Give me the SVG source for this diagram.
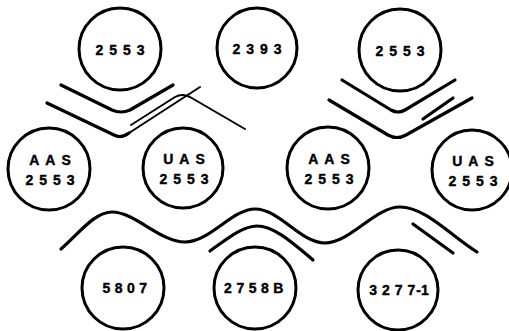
<svg xmlns="http://www.w3.org/2000/svg" width="509" height="331" viewBox="0 0 509 331">
<style>
  .n { fill: none; stroke: #000; stroke-width: 3; }
  .t { font-family: "Liberation Sans", Arial, sans-serif; font-weight: bold; font-size: 14px; letter-spacing: 6px; text-anchor: middle; fill: #000; stroke: #000; stroke-width: 0.4; }
  .t2 { letter-spacing: 4.5px; }
  .t3 { letter-spacing: 0; }
  .c { fill: none; stroke: #000; stroke-linecap: round; stroke-linejoin: round; }
  .thick { stroke-width: 3.2; }
  .thin { stroke-width: 2; }
</style>
<rect width="509" height="331" fill="#fff"/>
<g id="connectors">
  <path class="c thick" d="M61,85 L112,110 Q121,114 130,110 L173,85"/>
  <path class="c thick" d="M47,103 L114,135 Q121,139 129,133"/>
  <path class="c thin" d="M129,133 L200,87"/>
  <path class="c thin" d="M131,125 L175,97 Q182,93 190,97 L245,129"/>
  <path class="c thick" d="M342,80 L391,110 Q398,114 405,110 L455,80"/>
  <path class="c thick" d="M329,100 L388,135 Q397,140 406,135 L472,98"/>
  <path class="c thick" d="M423,119 L453,98"/>
  <path class="c thick" d="M61,249 C80,232 95,212 112,212 C135,212 160,242 185,242 C210,242 232,209 255,209 C280,209 300,243 325,243 C350,243 375,207 400,207 C425,207 450,235 477,252"/>
  <path class="c thick" d="M210,251 C228,238 243,226 257,226 C275,226 295,245 313,260"/>
  <path class="c thick" d="M413,224 L453,253"/>
</g>
<g id="n1"><circle class="n" cx="120" cy="49" r="41"/><text class="t" x="123" y="55">2553</text></g>
<g id="n2"><circle class="n" cx="257" cy="48" r="40"/><text class="t" x="260" y="54">2393</text></g>
<g id="n3"><circle class="n" cx="400" cy="50" r="41"/><text class="t" x="403" y="56">2553</text></g>
<g id="n4"><circle class="n" cx="49" cy="169" r="41"/><text class="t" x="53" y="165">AAS</text><text class="t" x="53" y="185">2553</text></g>
<g id="n5"><circle class="n" cx="183" cy="168" r="40"/><text class="t" x="187" y="164">UAS</text><text class="t" x="187" y="184">2553</text></g>
<g id="n6"><circle class="n" cx="328" cy="168" r="41"/><text class="t" x="332" y="164">AAS</text><text class="t" x="332" y="184">2553</text></g>
<g id="n7"><circle class="n" cx="472" cy="170" r="40"/><text class="t" x="476" y="166">UAS</text><text class="t" x="476" y="186">2553</text></g>
<g id="n8"><circle class="n" cx="123" cy="288" r="41"/><text class="t t2" x="127" y="293">5807</text></g>
<g id="n9"><circle class="n" cx="255" cy="288" r="41"/><text class="t t2" x="256" y="293">2758B</text></g>
<g id="n10"><circle class="n" cx="398" cy="290" r="40"/><text class="t t3" x="399" y="295">3<tspan dx="5">2</tspan><tspan dx="5">7</tspan><tspan dx="5">7</tspan><tspan dx="1">-1</tspan></text></g>
</svg>
